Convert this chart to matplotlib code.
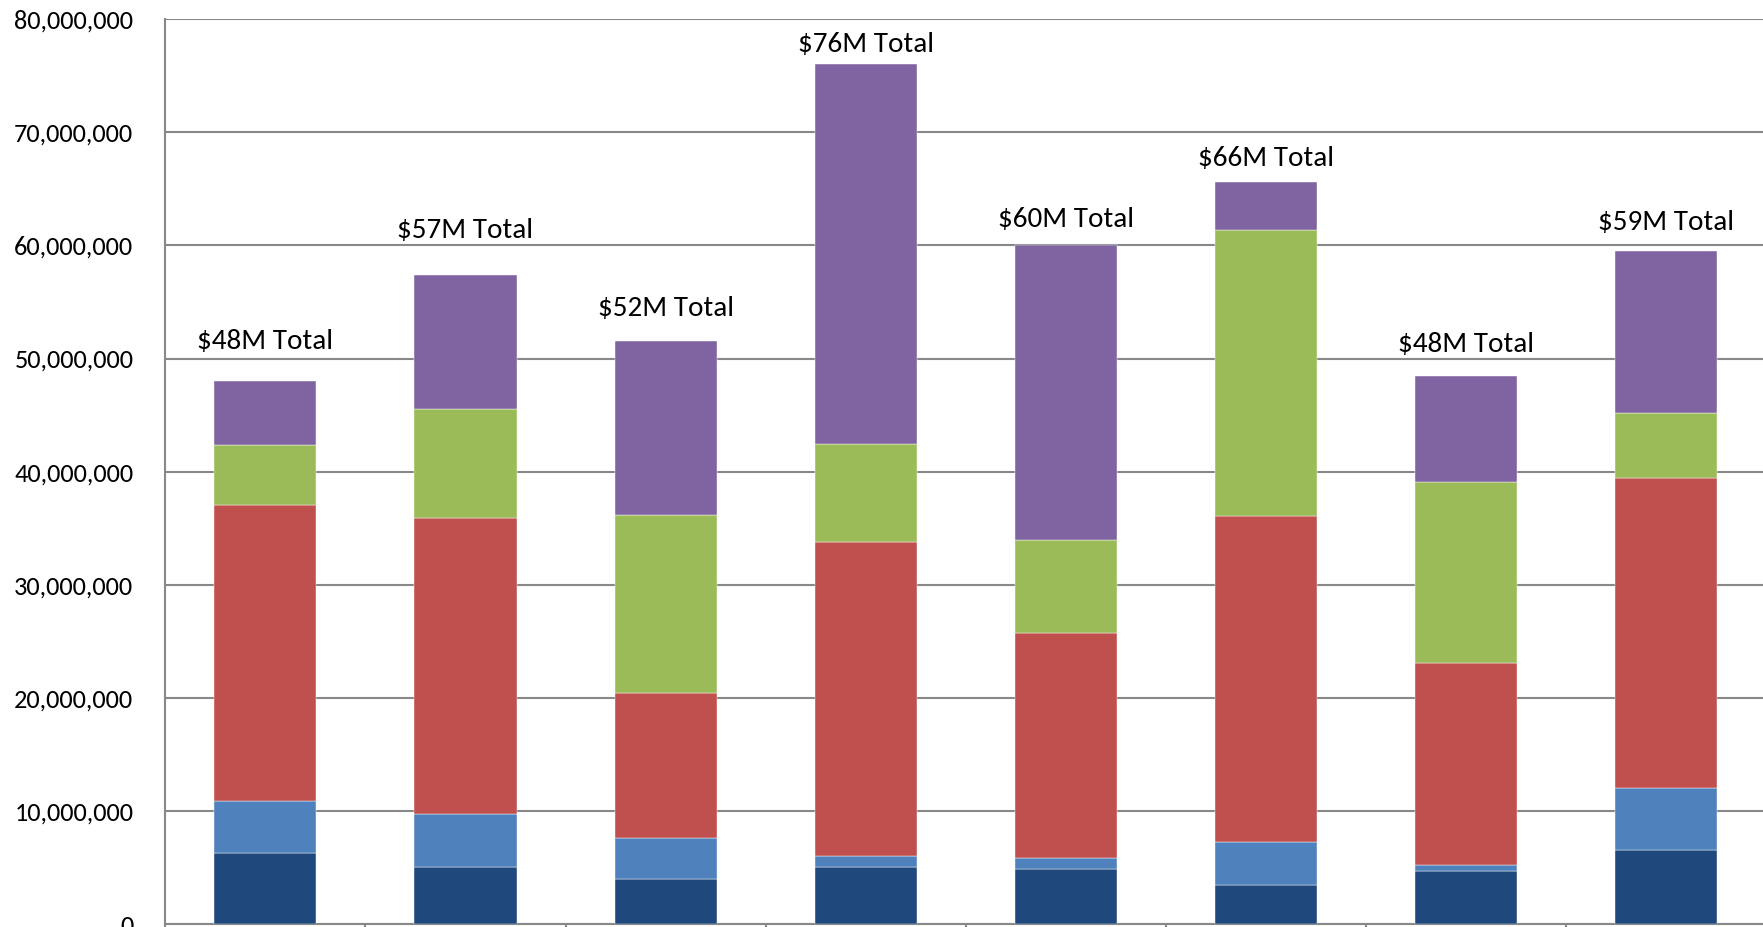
import matplotlib
matplotlib.use("Agg")
import matplotlib.pyplot as plt
from matplotlib.ticker import FuncFormatter, FixedLocator
import numpy as np

plt.rcParams['font.family'] = ['Carlito', 'Lato', 'DejaVu Sans']

# ---- data (values in dollars) ----
categories = list(range(8))
series_names = ["Series 1", "Series 2", "Series 3", "Series 4", "Series 5"]
s1 = [6.26e6, 5.07e6, 3.98e6, 5.07e6, 4.87e6, 3.48e6, 4.67e6, 6.56e6]
s2 = [4.67e6, 4.67e6, 3.67e6, 0.99e6, 0.99e6, 3.78e6, 0.60e6, 5.47e6]
s3 = [26.15e6, 26.14e6, 12.83e6, 27.74e6, 19.89e6, 28.82e6, 17.79e6, 27.43e6]
s4 = [5.27e6, 9.65e6, 15.70e6, 8.65e6, 8.25e6, 25.25e6, 16.01e6, 5.77e6]
s5 = [5.65e6, 11.83e6, 15.41e6, 33.59e6, 26.04e6, 4.27e6, 9.43e6, 14.31e6]
total_labels = ["$48M Total", "$57M Total", "$52M Total", "$76M Total",
                "$60M Total", "$66M Total", "$48M Total", "$59M Total"]
y_ticks = [0, 10e6, 20e6, 30e6, 40e6, 50e6, 60e6, 70e6, 80e6]

# ---- style ----
colors = ["#1F497D", "#4F81BD", "#C0504D", "#9BBB59", "#8064A2"]
label_offsets_pt = [28.5, 32, 23, 14, 18, 17, 22, 20]
grid_color = "#888888"

W, H = 1763, 927
fig = plt.figure(figsize=(W / 100, H / 100), dpi=100)
ax = fig.add_axes([165.3 / W, 2.7 / H, 1601 / W, (924.3 - 19.1) / H])

x = np.arange(len(categories))
series = [s1, s2, s3, s4, s5]
bottom = np.zeros(len(categories))
for vals, col, name in zip(series, colors, series_names):
    v = np.array(vals)
    ax.bar(x, v, width=0.51, bottom=bottom, color=col, label=name,
           edgecolor="white", linewidth=0.3, zorder=3)
    bottom = bottom + v

for xi, tot, lab, off in zip(x, bottom, total_labels, label_offsets_pt):
    ax.annotate(lab, xy=(xi, tot), xytext=(0, off), textcoords="offset points",
                ha="center", va="center", fontsize=21, color="black")

ax.set_xlim(-0.5, len(categories) - 0.5)
ax.set_ylim(0, 80e6)
ax.yaxis.set_major_locator(FixedLocator(y_ticks))
ax.yaxis.set_major_formatter(FuncFormatter(lambda v, p: f"{int(v):,}"))
ax.grid(axis="y", color=grid_color, linewidth=1.5, zorder=0)
ax.set_axisbelow(True)

ax.xaxis.set_major_locator(FixedLocator(np.arange(len(categories) + 1) - 0.5))
ax.set_xticklabels([])
ax.tick_params(axis="x", direction="out", length=6, color=grid_color, width=1.5)
ax.tick_params(axis="y", length=0, labelsize=19, pad=23)

for side in ["top", "right"]:
    ax.spines[side].set_visible(False)
for side in ["left", "bottom"]:
    ax.spines[side].set_color(grid_color)
    ax.spines[side].set_linewidth(1.5)

fig.savefig("out.png", dpi=100)
